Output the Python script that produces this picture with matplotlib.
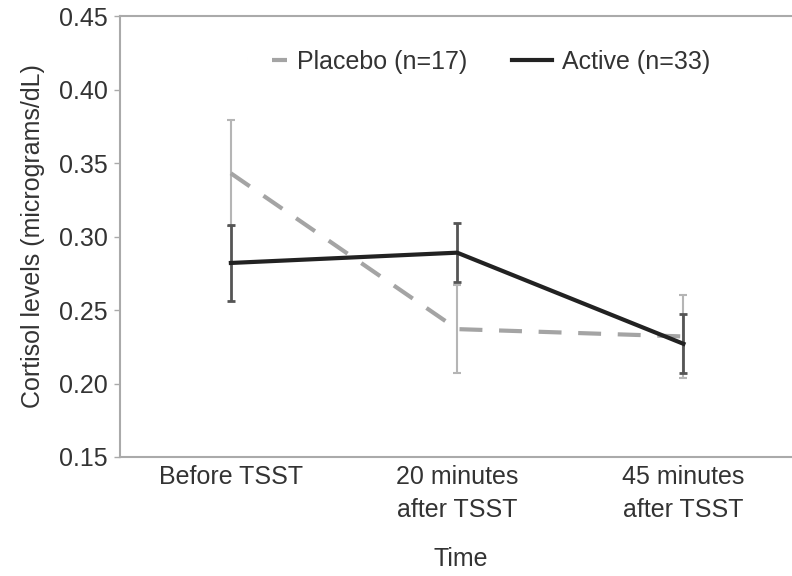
import matplotlib
matplotlib.use("Agg")
import matplotlib.pyplot as plt
from matplotlib.lines import Line2D

plt.rcParams['font.family'] = ['Liberation Sans', 'DejaVu Sans']

time_labels = ["Before TSST", "20 minutes\nafter TSST", "45 minutes\nafter TSST"]
placebo_mean = [0.343, 0.237, 0.232]
placebo_err = [0.036, 0.030, 0.028]
active_mean = [0.282, 0.289, 0.227]
active_err = [0.026, 0.020, 0.020]

x = list(range(len(time_labels)))

fig = plt.figure(figsize=(7.92, 5.76), dpi=100)
ax = fig.add_axes([0.1515, 0.2066, 0.86, 0.7656])

ax.errorbar(x, placebo_mean, yerr=placebo_err, color="#a4a4a4", ecolor="#b5b5b5",
            elinewidth=1.5, capsize=3, capthick=1.5, linewidth=3, linestyle=(0, (5.5, 4)),
            zorder=2)
ax.errorbar(x, active_mean, yerr=active_err, color="#222222", ecolor="#555555",
            elinewidth=2, capsize=3, capthick=2, linewidth=3, zorder=3)

ax.set_xlim(-0.49, 2.52)
ax.set_ylim(0.15, 0.45)
ax.set_yticks([0.15, 0.20, 0.25, 0.30, 0.35, 0.40, 0.45])
ax.set_yticklabels([f"{v:.2f}" for v in [0.15, 0.20, 0.25, 0.30, 0.35, 0.40, 0.45]])
ax.set_xticks(x)
ax.set_xticklabels(time_labels, linespacing=1.45)

for s in ["left", "top", "bottom"]:
    ax.spines[s].set_color("#aaaaaa")
    ax.spines[s].set_linewidth(1.5)
ax.spines["right"].set_visible(False)
ax.tick_params(axis="y", colors="#aaaaaa", labelcolor="#333333", labelsize=18, length=4, width=1, pad=5)
ax.tick_params(axis="x", length=0, labelsize=18, labelcolor="#333333", pad=6)

ax.set_ylabel("Cortisol levels (micrograms/dL)", fontsize=18, color="#333333", labelpad=10)
ax.set_xlabel("Time", fontsize=18, color="#333333", labelpad=18)

# placebo legend key is a short dash next to the text
handles = [Line2D([0], [0], color="#a4a4a4", linewidth=3,
                  linestyle=(0, (0.001, 6.0, 7.3, 0.001)), dash_capstyle="butt"),
           Line2D([0], [0], color="#222222", linewidth=3)]
leg = ax.legend(handles, ["Placebo (n=17)", "Active (n=33)"], loc="upper center",
                bbox_to_anchor=(0.527, 0.975), ncol=2, frameon=False,
                fontsize=18, handlelength=1.6, columnspacing=1.8, handletextpad=0.4)
for txt in leg.get_texts():
    txt.set_color("#333333")

fig.savefig("out.png", dpi=100)
